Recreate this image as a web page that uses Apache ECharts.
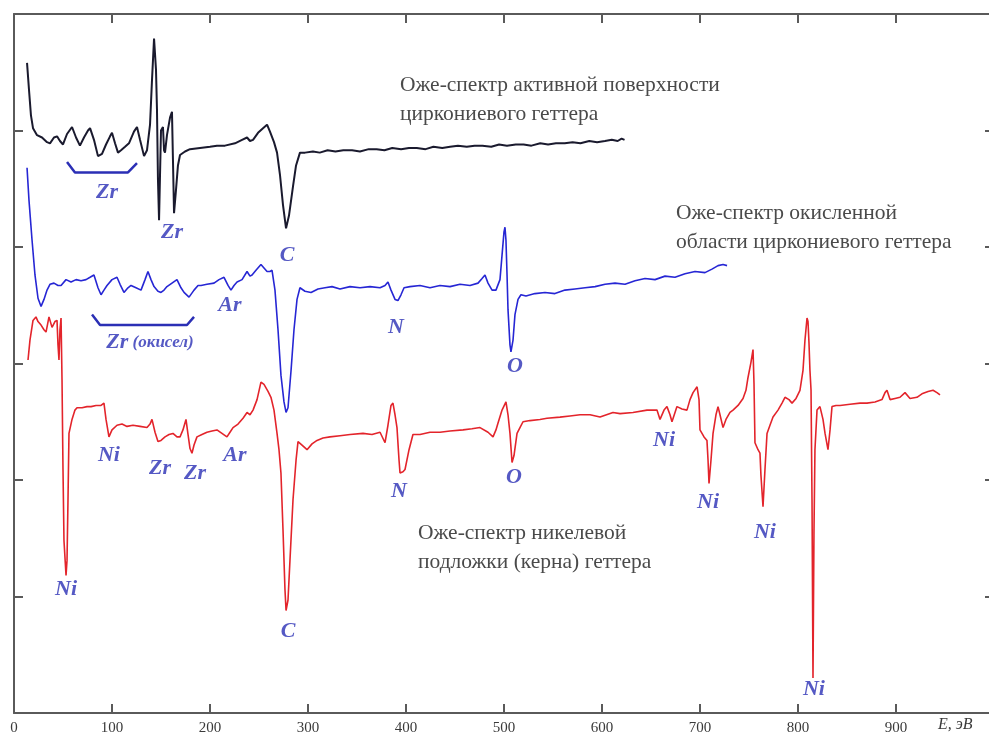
<!DOCTYPE html>
<html>
<head>
<meta charset="utf-8">
<script src="https://cdn.jsdelivr.net/npm/echarts@6/dist/echarts.min.js"></script>
<style>
html,body{margin:0;padding:0;background:#fff;}
#chart{width:989px;height:742px;}
</style>
</head>
<body>
<div id="chart"></div>
<script>
// X axis ticks (eV)
const xTicks = [0, 100, 200, 300, 400, 500, 600, 700, 800, 900];
const xUnit = 'E, эВ';

// Black: Auger spectrum of active zirconium getter surface
const blackE = [13.3,15.3,17.3,19.4,23.5,28.6,33.7,36.7,40.8,43.9,46.9,50.0,54.1,59.2,63.3,67.3,71.4,75.5,77.6,81.6,85.7,89.8,93.9,98.0,100.0,103.1,106.1,109.2,113.3,117.3,122.4,125.5,128.6,132.7,135.7,138.8,140.8,142.9,144.9,145.9,146.9,148.0,149.0,150.0,152.0,153.1,154.1,156.1,159.2,161.2,162.2,163.3,165.3,167.3,169.4,174.5,179.6,189.8,200.0,207.1,215.3,225.5,232.7,237.8,240.8,243.9,249.0,254.1,258.2,261.2,265.3,268.4,271.4,274.5,277.6,280.6,284.7,287.8,291.8,297,305,312,320,328,336,345,353,362,370,378,386,395,403,411,420,428,437,445,453,462,470,478,487,495,503,512,520,528,537,545,553,562,570,578,587,595,603,610,616,620,623];
const blackV = [5.58,5.35,5.13,5.02,4.96,4.94,4.90,4.89,4.94,4.95,4.91,4.88,4.97,5.03,4.94,4.87,4.94,5.00,5.02,4.92,4.78,4.80,4.88,4.95,4.98,4.89,4.81,4.83,4.86,4.89,4.99,5.03,4.92,4.78,4.83,5.05,5.43,5.79,5.52,5.18,4.58,4.23,4.62,5.00,5.03,4.83,4.81,4.96,5.11,5.16,4.75,4.29,4.49,4.70,4.79,4.82,4.84,4.85,4.86,4.87,4.87,4.89,4.92,4.94,4.91,4.92,4.98,5.02,5.05,4.99,4.90,4.81,4.62,4.36,4.16,4.27,4.52,4.70,4.81,4.81,4.82,4.81,4.83,4.82,4.83,4.83,4.82,4.84,4.84,4.83,4.85,4.84,4.85,4.85,4.84,4.86,4.85,4.86,4.87,4.86,4.87,4.87,4.86,4.88,4.87,4.88,4.88,4.87,4.89,4.88,4.89,4.89,4.90,4.89,4.91,4.90,4.91,4.92,4.91,4.93,4.92];

// Blue: Auger spectrum of oxidized zirconium getter region
const blueE = [13.3,15.3,18.4,21.4,24.5,27.6,30.6,33.7,36.7,40.8,44.9,48.0,53.1,58.2,63.3,68.4,73.5,77.6,81.6,85.7,88.8,91.8,94.9,100.0,105.1,108.2,112.2,116.3,119.4,124.5,129.6,133.7,136.7,139.8,142.9,146.9,150.0,153.1,156.1,161.2,166.3,170.4,173.5,178.6,183.7,187.8,190.8,196.9,204.1,209.2,214.3,218.4,221.4,224.5,227.6,232.7,237.8,240.8,242.9,246.9,252.0,255.1,258.2,261.2,263.3,266.3,269.4,272.4,275.5,277.6,279.6,282.7,285.7,288.8,291.8,296.9,303.1,310.2,317.3,324.5,332.7,342.9,353.1,363.3,373.5,378.6,381.6,384.7,388.8,391.8,394.9,398.0,404.1,414.3,424.5,434.7,444.9,455.1,465.3,473.5,477.6,480.6,483.7,487.8,491.8,495.9,498.0,500.0,501.0,502.0,503.1,504.1,506.1,507.1,509.2,511.2,514.3,517.3,522.4,531.6,541.8,552.0,562.2,572.4,582.7,592.9,603.1,613.3,623.5,633.7,643.9,654.1,664.3,674.5,684.7,694.9,705.1,712.2,718.4,723.5,727.6];
const blueV = [4.68,4.40,4.06,3.76,3.56,3.49,3.55,3.63,3.68,3.69,3.67,3.67,3.72,3.70,3.72,3.71,3.72,3.74,3.76,3.65,3.59,3.63,3.67,3.72,3.74,3.68,3.61,3.65,3.67,3.65,3.63,3.72,3.79,3.72,3.66,3.62,3.61,3.63,3.66,3.69,3.72,3.65,3.61,3.57,3.63,3.67,3.67,3.68,3.69,3.72,3.74,3.67,3.63,3.67,3.70,3.72,3.79,3.75,3.76,3.80,3.85,3.82,3.79,3.79,3.80,3.63,3.29,2.90,2.67,2.58,2.62,2.94,3.29,3.55,3.65,3.62,3.61,3.64,3.65,3.66,3.64,3.66,3.65,3.66,3.65,3.67,3.70,3.63,3.55,3.54,3.59,3.65,3.66,3.67,3.65,3.67,3.66,3.68,3.67,3.69,3.73,3.76,3.69,3.63,3.63,3.72,3.93,4.13,4.17,4.06,3.76,3.46,3.16,3.10,3.20,3.42,3.55,3.59,3.58,3.60,3.61,3.60,3.63,3.64,3.65,3.66,3.68,3.69,3.68,3.71,3.73,3.72,3.75,3.74,3.77,3.79,3.78,3.81,3.84,3.85,3.84,3.87];

// Red: Auger spectrum of nickel substrate (core) of the getter
const redE = [14.3,16.3,19.4,22.4,24.5,27.6,30.6,32.7,35.7,38.8,41.8,43.9,44.9,45.9,46.9,48.0,49.0,50.0,51.0,53.1,54.1,55.1,56.1,59.2,62.2,64.3,69.4,74.5,78.6,83.7,88.8,91.8,93.9,96.9,100.0,105.1,110.2,115.3,121.4,128.6,135.7,138.8,140.8,143.9,146.9,150.0,154.1,158.2,162.2,166.3,169.4,172.4,175.5,177.6,179.6,181.6,183.7,186.7,191.8,196.9,202.0,207.1,212.2,217.3,220.4,223.5,228.6,233.7,237.8,240.8,243.9,248.0,252.0,255.1,259.2,262.2,265.3,268.4,270.4,272.4,274.5,276.5,277.6,279.6,281.6,284.7,287.8,289.8,293.9,299.0,304.1,309.2,315.3,322.4,332.7,342.9,356.1,365.3,373.5,378.6,381.6,384.7,386.7,388.8,390.8,392.9,393.9,396.9,399.0,403.1,407.1,414.3,424.5,434.7,444.9,458.2,467.3,475.5,483.7,488.8,491.8,493.9,498.0,502.0,504.1,506.1,508.2,510.2,513.3,516.3,519.4,526.5,536.7,543.9,557.1,567.3,577.6,587.8,598.0,611.2,618.4,631.6,645.9,652.0,656.1,659.2,663.3,666.3,669.4,671.4,674.5,676.5,681.6,686.7,689.8,692.9,697.0,699.0,700.0,704.1,707.1,708.2,709.2,711.2,713.3,716.3,718.4,720.4,723.5,726.5,730.6,733.7,738.8,743.9,746.9,749.0,752.0,754.1,755.1,756.1,759.2,761.2,762.2,764.3,766.3,768.4,771.4,774.5,779.6,783.7,786.7,790.8,793.9,798.0,802.0,805.1,807.1,809.2,810.2,811.2,812.2,813.3,814.3,815.3,816.3,817.3,819.4,822.4,825.5,827.6,830.6,832.7,834.7,838.8,842.9,853.1,863.3,870.4,878.6,885.7,888.8,890.8,893.9,899.0,904.1,909.2,914.3,921.4,926.5,932.7,937.8,941.8,944.9];
const redV = [3.03,3.20,3.37,3.40,3.36,3.33,3.29,3.27,3.40,3.31,3.36,3.37,3.16,3.03,3.29,3.39,2.86,2.09,1.48,1.18,1.31,1.83,2.40,2.52,2.60,2.62,2.62,2.63,2.63,2.64,2.64,2.66,2.52,2.37,2.43,2.47,2.48,2.46,2.47,2.46,2.45,2.48,2.52,2.41,2.33,2.34,2.37,2.39,2.40,2.37,2.37,2.43,2.52,2.39,2.27,2.23,2.30,2.37,2.39,2.41,2.42,2.43,2.40,2.37,2.41,2.45,2.48,2.53,2.58,2.56,2.60,2.69,2.84,2.82,2.76,2.71,2.60,2.40,2.26,2.06,1.57,1.06,0.88,0.97,1.31,1.83,2.17,2.33,2.30,2.26,2.31,2.34,2.36,2.37,2.38,2.39,2.40,2.39,2.41,2.32,2.47,2.64,2.66,2.56,2.45,2.17,2.06,2.07,2.09,2.26,2.39,2.39,2.41,2.41,2.42,2.43,2.44,2.45,2.41,2.37,2.43,2.49,2.60,2.67,2.56,2.40,2.15,2.21,2.40,2.45,2.50,2.51,2.52,2.53,2.54,2.55,2.56,2.56,2.54,2.58,2.57,2.58,2.60,2.60,2.60,2.52,2.60,2.63,2.56,2.50,2.58,2.63,2.61,2.60,2.69,2.75,2.80,2.69,2.43,2.37,2.34,2.17,1.97,2.17,2.40,2.56,2.63,2.56,2.45,2.52,2.58,2.60,2.64,2.70,2.77,2.88,3.01,3.12,2.83,2.32,2.26,2.23,2.04,1.77,2.09,2.40,2.47,2.54,2.60,2.66,2.71,2.69,2.66,2.70,2.77,2.94,3.20,3.39,3.36,3.18,2.94,2.77,1.83,0.30,1.55,2.26,2.60,2.63,2.52,2.40,2.26,2.43,2.63,2.64,2.64,2.65,2.66,2.66,2.67,2.69,2.75,2.77,2.69,2.70,2.71,2.75,2.70,2.71,2.74,2.76,2.77,2.75,2.73];

// Peak labels: [E, value, text]
const blackLabels = [[94.9,4.47,'Zr'],[161.2,4.13,'Zr'],[278.6,3.93,'C']];
const blueLabels = [[220.4,3.50,'Ar'],[389.8,3.31,'N'],[511.2,2.98,'O'],[138.8,3.18,'Zr (окисел)']];
const redLabels = [[53.1,1.06,'Ni'],[96.9,2.21,'Ni'],[149.0,2.10,'Zr'],[184.7,2.06,'Zr'],[225.5,2.21,'Ar'],[279.6,0.70,'C'],[392.9,1.90,'N'],[510.2,2.02,'O'],[663.3,2.34,'Ni'],[708.2,1.81,'Ni'],[766.3,1.55,'Ni'],[816.3,0.20,'Ni']];

// Brackets grouping Zr features
const bracketBlackE = [54.1,62.2,116.3,125.5];
const bracketBlackV = [4.73,4.64,4.64,4.72];
const bracketBlueE = [79.6,87.8,176.5,183.7];
const bracketBlueV = [3.42,3.33,3.33,3.40];

// Captions
const caption1 = ['Оже-спектр активной поверхности', 'циркониевого геттера'];
const caption2 = ['Оже-спектр окисленной', 'области циркониевого геттера'];
const caption3 = ['Оже-спектр никелевой', 'подложки (керна) геттера'];

const zip = (a, b) => a.map((x, i) => [x, b[i]]);

const chart = echarts.init(document.getElementById('chart'), null, {renderer: 'canvas'});
const axisColor = '#5a5a5a';
const serif = '"Liberation Serif", "DejaVu Serif", serif';
const labelBlue = '#2b2fb5';

function xAxisCfg(pos, showLabels) {
  return {
    type: 'value', position: pos, min: 0, max: 1000, interval: 100,
    axisLine: {show: true, onZero: false, lineStyle: {color: axisColor, width: 2}},
    axisTick: {show: true, inside: true, length: 9, lineStyle: {color: axisColor, width: 2}},
    axisLabel: {
      show: showLabels, color: '#3a3a3a', fontFamily: serif, fontSize: 15, margin: 8,
      formatter: v => (xTicks.indexOf(v) >= 0 ? String(v) : '')
    },
    splitLine: {show: false}
  };
}
function yAxisCfg(pos) {
  return {
    type: 'value', position: pos, min: 0, max: 6, interval: 1,
    axisLine: {show: true, onZero: false, lineStyle: {color: axisColor, width: 2}},
    axisTick: {show: true, inside: true, length: 9, lineStyle: {color: axisColor, width: 2}},
    axisLabel: {show: false},
    splitLine: {show: false}
  };
}
function lineSeries(data, color, width) {
  return {type: 'line', data: data, showSymbol: false, symbol: 'none', animation: false,
    lineStyle: {color: color, width: width}, z: 3};
}
function labelSeries(data) {
  return {
    type: 'scatter', data: data, symbolSize: 0, animation: false, z: 5,
    label: {
      show: true, position: 'inside', color: labelBlue, fontFamily: serif,
      fontSize: 22, fontStyle: 'italic', fontWeight: 'bold',
      formatter: p => p.value[2] === 'Zr (окисел)' ? '{a|Zr}{b| (окисел)}' : p.value[2],
      rich: {
        a: {color: labelBlue, fontFamily: serif, fontSize: 22, fontStyle: 'italic', fontWeight: 'bold'},
        b: {color: labelBlue, fontFamily: serif, fontSize: 17, fontStyle: 'italic', fontWeight: 'bold'}
      }
    }
  };
}
function captionText(lines, left, top) {
  return {type: 'text', left: left, top: top, z: 10,
    style: {text: lines.join('\n'), fill: '#4a4a4a', font: '21.5px ' + serif, lineHeight: 29}};
}

chart.setOption({
  animation: false,
  backgroundColor: '#ffffff',
  grid: {left: 14, width: 980, top: 14, bottom: 29, containLabel: false, outerBoundsMode: 'none'},
  xAxis: [xAxisCfg('bottom', true), xAxisCfg('top', false)],
  yAxis: [yAxisCfg('left'), yAxisCfg('right')],
  series: [
    lineSeries(zip(blackE, blackV), '#1a1a2e', 2),
    lineSeries(zip(blueE, blueV), '#2626d4', 1.6),
    lineSeries(zip(redE, redV), '#e3242b', 1.6),
    lineSeries(zip(bracketBlackE, bracketBlackV), '#2b2fb5', 2.5),
    lineSeries(zip(bracketBlueE, bracketBlueV), '#2b2fb5', 2.5),
    labelSeries(blackLabels),
    labelSeries(blueLabels),
    labelSeries(redLabels)
  ],
  graphic: [
    captionText(caption1, 400, 71),
    captionText(caption2, 676, 199),
    captionText(caption3, 418, 519),
    {type: 'text', left: 938, top: 717, z: 10,
      style: {text: xUnit, fill: '#3a3a3a', font: 'italic 16px ' + serif}}
  ]
});
</script>
</body>
</html>
